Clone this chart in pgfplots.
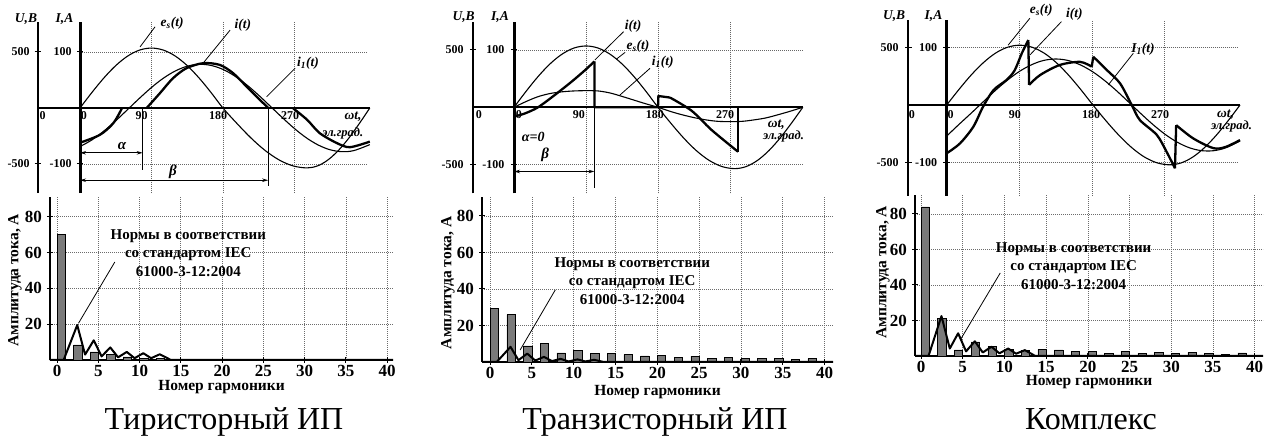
\documentclass[border=0pt]{standalone}
\usepackage{fontspec}
\setmainfont{Liberation Serif}
\usepackage{pgfplots}
\pgfplotsset{compat=1.18}
\usetikzlibrary{arrows.meta}
\newcommand\fs[1]{\fontsize{#1}{#1}\selectfont}
\newcommand\tkf{\fs{12}\bfseries}
\newcommand\lbf{\fs{13.5}\bfseries\itshape}
\definecolor{barfill}{gray}{0.48}
\pgfplotsset{
 wave/.style={scale only axis, hide axis, clip=false, anchor=south west, xmin=-60, xmax=375, ymin=-160, ymax=160},
 thinc/.style={black, line width=1.1pt, smooth, tension=0.55},
 thickc/.style={black, line width=2.3pt, smooth, tension=0.5, line join=round},
 thicks/.style={black, line width=2.3pt, line join=round},
 bars/.style={scale only axis, anchor=south west, clip=false, axis lines*=left,
   axis line style={line width=1.6pt}, ymin=0, xtick={0,5,...,40}, ytick={20,40,60,80},
   grid=major, grid style={dash pattern=on 0.8pt off 1.2pt, gray!85!black, line width=0.7pt},
   tick align=center, major tick length=6pt, tick style={black, line width=1pt},
   ticklabel style={font=\fs{17}\bfseries}, /pgf/number format/assume math mode=true,
   xticklabel style={anchor=north, inner sep=0pt, yshift=-2pt},
   yticklabel style={anchor=east, inner sep=0pt, xshift=-5pt}},
 barst/.style={ybar, bar width=1, fill=barfill, draw=black, line width=0.5pt},
 normst/.style={black, line width=2pt, line join=round},
}
\tikzset{gridl/.style={dash pattern=on 0.8pt off 1.2pt, gray!80!black, line width=0.8pt},
 lead/.style={black, line width=0.8pt},
 xlab/.style={font=\fs{15.5}\bfseries, inner sep=0pt},
 dim/.style={black, line width=0.9pt, {Stealth[length=6pt,width=3.5pt]}-{Stealth[length=6pt,width=3.5pt]}}}
\begin{document}
\begin{tikzpicture}
\useasboundingbox (0pt,0pt) rectangle (1265pt,438pt);
% ================= PANEL 1 TOP =================
\begin{axis}[wave, width=345.4pt, height=179.2pt, at={(32.36pt,240.4pt)}]
\draw[gridl] (0,100) -- (362,100); \draw[gridl] (0,-100) -- (362,-100);
\draw[gridl] (90,-152) -- (90,154);
\draw[gridl] (180,-152) -- (180,154);
\draw[gridl] (270,-152) -- (270,154);
\draw[line width=2.2pt] (-53,-152) -- (-53,154);
\draw[line width=3pt] (0,-152) -- (0,154);
\draw[line width=1.6pt] (-53,0) -- (365,0);
\draw[line width=1pt] (-57,100)--(-49,100) (-57,-100)--(-49,-100) (-4,100)--(4,100) (-4,-100)--(4,-100);
\node[anchor=east,font=\tkf] at (-59,100) {500};
\node[anchor=east,font=\tkf] at (-59,-100) {-500};
\node[anchor=east,font=\tkf] at (-6,100) {100};
\node[anchor=east,font=\tkf] at (-6,-100) {-100};
\node[font=\tkf] at (-47,-14) {0};
\node[font=\tkf] at (5,-14) {0};
\node[font=\tkf] at (77.6,-14) {90};
\node[font=\tkf] at (174,-14) {180};
\node[font=\tkf] at (264.5,-14) {270};
\node[font=\lbf] at (-68,159) {U,B};
\node[font=\lbf] at (-19.5,159) {I,A};
\addplot[thinc] coordinates {(0,0)(15,27.7)(30,53.5)(45,75.7)(60,92.7)(75,103.4)(90,107)(105,103.4)(120,92.7)(135,75.7)(150,53.5)(165,27.7)(180,0)(197.7,-27.7)(215.3,-53.5)(233,-75.7)(250.7,-92.7)(268.3,-103.4)(286,-107)(299.2,-103.4)(312.3,-92.7)(325.5,-75.7)(338.7,-53.5)(351.8,-27.7)(365,0)};
\addplot[thinc] coordinates {(0,-68.9)(15,-57)(30,-41.3)(45,-22.8)(60,-2.7)(75,17.5)(90,36.6)(105,53.2)(120,66.1)(135,74.6)(150,78)(165,76)(180,68.9)(195,57)(210,41.3)(225,22.8)(240,2.7)(255,-17.5)(270,-36.6)(285,-53.2)(300,-66.1)(315,-74.6)(330,-78)(345,-76)(365,-65.4)};
\addplot[thickc] coordinates {(0,-62)(25,-48)(42,-27)(53,0)};
\addplot[thicks] coordinates {(53,0)(84,0)};
\addplot[thickc] coordinates {(84,0)(101,27)(117,53)(134,71)(155,80)(176,77)(193,62)(210,38)(227,14)(237,0)};
\addplot[thicks] coordinates {(237,0)(268,0)};
\addplot[thickc] coordinates {(268,0)(286,-21)(302,-45)(324,-63)(340,-70)(365,-60)};
\draw[lead] (75.6,109) -- (94.5,145);
\node[font=\lbf] at (116,152) {e\textsubscript{s}(t)};
\draw[lead] (155,80) -- (189,139);
\node[font=\lbf] at (205,148) {i(t)};
\draw[lead] (235,20) -- (271,71);
\node[font=\lbf] at (287,80) {i\textsubscript{1}(t)};
\draw[dim] (0,-80) -- (79,-80);
\draw[line width=1.2pt] (79,0) -- (79,-111);
\node[font=\fs{15}\itshape\bfseries] at (53,-68) {α};
\draw[dim] (0,-129) -- (237,-129);
\draw[line width=1.2pt] (237,0) -- (237,-139);
\node[font=\fs{15}\itshape\bfseries] at (117,-114) {β};
\node[font=\lbf] at (344,-16) {ωt,};
\node[font=\fs{12.5}\bfseries\itshape] at (331,-45) {эл.град.};
\end{axis}
% ================= PANEL 2 TOP =================
\begin{axis}[wave, width=348pt, height=183.4pt, at={(466pt,239.0pt)}]
\draw[gridl] (0,100) -- (361,100); \draw[gridl] (0,-100) -- (361,-100);
\draw[gridl] (90,-150) -- (90,149);
\draw[gridl] (180,-150) -- (180,149);
\draw[gridl] (270,-150) -- (270,149);
\draw[line width=2.2pt] (-51,-150) -- (-51,149);
\draw[line width=3pt] (0,-150) -- (0,149);
\draw[line width=1.6pt] (-51,0) -- (361,0);
\draw[line width=1pt] (-55,100)--(-47,100) (-55,-100)--(-47,-100) (-4,100)--(4,100) (-4,-100)--(4,-100);
\node[anchor=east,font=\tkf] at (-58.5,100) {500};
\node[anchor=east,font=\tkf] at (-58.5,-100) {-500};
\node[anchor=east,font=\tkf] at (-7.5,100) {100};
\node[anchor=east,font=\tkf] at (-7.5,-100) {-100};
\node[font=\tkf] at (-44,-12) {0};
\node[font=\tkf] at (6,-12) {0};
\node[font=\tkf] at (81,-12) {90};
\node[font=\tkf] at (176,-12) {180};
\node[font=\tkf] at (264,-12) {270};
\node[font=\lbf] at (-63,157.6) {U,B};
\node[font=\lbf] at (-17.5,157.6) {I,A};
\addplot[thinc] coordinates {(0,0)(15,27.7)(30,53.5)(45,75.7)(60,92.7)(75,103.4)(90,107)(105,103.4)(120,92.7)(135,75.7)(150,53.5)(165,27.7)(180,0)(196,-27.7)(212,-53.5)(228,-75.7)(244,-92.7)(260,-103.4)(276,-107)(290.2,-103.4)(304.3,-92.7)(318.5,-75.7)(332.7,-53.5)(346.8,-27.7)(361,0)};
\addplot[thinc] coordinates {(0,0)(15,10)(30,18.5)(45,24)(60,27)(75,28.5)(90,29)(105,28.5)(120,25)(135,19)(150,12.5)(165,6)(180,0)(195,-7)(210,-13)(225,-18)(240,-22)(255,-24.5)(270,-25)(285,-24.5)(300,-22)(315,-18.5)(330,-13)(345,-7)(361,0)};
\addplot[thickc] coordinates {(0,-16.4)(14,-10.5)(30,0)(51,21.5)(72,44.7)(89,65)(100.5,80)};
\addplot[thicks] coordinates {(100.5,80)(100.5,0)(180,0)(180.5,19.7)(195,17)};
\addplot[thickc] coordinates {(195,17)(222,-6)(247,-39.6)(280,-77.5)};
\addplot[thicks] coordinates {(280,-77.5)(280,0)(361,0)};
\draw[line width=1.2pt] (100.5,0) -- (100.5,-141);
\draw[lead] (101,82.5) -- (137,132);
\node[font=\lbf] at (149,142) {i(t)};
\draw[lead] (128,84) -- (139,96);
\node[font=\lbf] at (155,106) {e\textsubscript{s}(t)};
\draw[lead] (132.5,21.5) -- (170,68);
\node[font=\lbf] at (186,79) {i\textsubscript{1}(t)};
\node[font=\fs{14}\itshape\bfseries] at (24,-52) {α=0};
\draw[dim] (0,-112) -- (100.5,-112);
\node[font=\fs{15}\itshape\bfseries] at (39,-83) {β};
\node[font=\lbf] at (328,-31) {ωt,};
\node[font=\fs{12.5}\bfseries\itshape] at (337,-51) {эл.град.};
\end{axis}
% ================= PANEL 3 TOP =================
\begin{axis}[wave, ymin=-165, width=351.5pt, height=186.9pt, at={(898.2pt,238.1pt)}]
\draw[gridl] (0,100) -- (361,100); \draw[gridl] (0,-100) -- (361,-100);
\draw[gridl] (90,-158) -- (90,148);
\draw[gridl] (180,-158) -- (180,148);
\draw[gridl] (270,-158) -- (270,148);
\draw[line width=2.2pt] (-47.5,-158) -- (-47.5,148);
\draw[line width=3pt] (0,-158) -- (0,148);
\draw[line width=1.6pt] (-47.5,0) -- (363,0);
\draw[line width=1pt] (-51.5,100)--(-43.5,100) (-51.5,-100)--(-43.5,-100) (-4,100)--(4,100) (-4,-100)--(4,-100);
\node[anchor=east,font=\tkf] at (-55,100) {500};
\node[anchor=east,font=\tkf] at (-55,-100) {-500};
\node[anchor=east,font=\tkf] at (-7.4,100) {100};
\node[anchor=east,font=\tkf] at (-7.4,-100) {-100};
\node[font=\tkf] at (-43,-16) {0};
\node[font=\tkf] at (5,-16) {0};
\node[font=\tkf] at (84.5,-16) {90};
\node[font=\tkf] at (178.6,-16) {180};
\node[font=\tkf] at (264,-16) {270};
\node[font=\lbf] at (-65,155) {U,B};
\node[font=\lbf] at (-16.3,155) {I,A};
\addplot[thinc] coordinates {(0,0)(15.1,26.9)(30.2,52)(45.3,73.5)(60.3,90.1)(75.4,100.5)(90.5,104)(105.6,100.5)(120.7,90.1)(135.8,73.5)(150.8,52)(165.9,26.9)(181,0)(196.8,-26.9)(212.7,-52)(228.5,-73.5)(244.3,-90.1)(260.2,-100.5)(276,-104)(290.5,-100.5)(305,-90.1)(319.5,-73.5)(334,-52)(348.5,-26.9)(363,0)};
\addplot[thinc] coordinates {(0,-54)(15,-34)(30,-14.6)(45,5.3)(60,25)(75,43)(90,58.4)(105,70)(120,77.5)(135,80)(150,77.5)(165,70)(180,58.4)(195,43)(210,25)(225,5.3)(240,-14.6)(255,-33.7)(270,-50.7)(285,-64.4)(300,-74.2)(315,-79.3)(330,-79.5)(345,-74.6)(363,-62.8)};
\addplot[thickc] coordinates {(0,-84)(16.5,-66.7)(33,-37.7)(45,-3)(58,26)(74,43.5)(84,60)(93,90)(101,113)};
\addplot[thicks] coordinates {(101,113)(102,35)};
\addplot[thickc] coordinates {(102,35)(115.5,52)(140,69.6)(165,75)(179.5,66.7)};
\addplot[thicks] coordinates {(179.5,66.7)(181.4,84)};
\addplot[thickc] coordinates {(181.4,84)(198,61)(214.5,37.7)(229,0)(239,-26)(260,-52)(272,-81)(282.5,-110)};
\addplot[thicks] coordinates {(282.5,-110)(284,-35)};
\addplot[thickc] coordinates {(284,-35)(305,-58)(330,-75)(345,-73)(363,-61)};
\draw[lead] (76,104) -- (103,151);
\node[font=\lbf] at (117,165) {e\textsubscript{s}(t)};
\draw[lead] (103,87) -- (142,145);
\node[font=\lbf] at (158,157) {i(t)};
\draw[lead] (200,35) -- (231,90);
\node[font=\lbf] at (243,97) {I\textsubscript{1}(t)};
\node[font=\lbf] at (345,-17) {ωt,};
\node[font=\fs{12.5}\bfseries\itshape] at (352.5,-38) {эл.град.};
\end{axis}
% ================= PANEL 1 BARS =================
\begin{axis}[bars, width=343pt, height=163pt, at={(50pt,78pt)}, xmin=-0.85, xmax=40.7, ymax=91]
\addplot[barst] coordinates {(0.5,70)(2.5,8.4)(4.5,4.5)(6.5,3.3)(8.5,1.7)(10.5,1.1)(12.5,0.9)};
\addplot[normst] coordinates {(-0.85,0)(0.8,0)(2.45,19.5)(3.4,3)(4.45,11)(5.4,2)(6.45,7)(7.4,1.5)(8.45,4.5)(9.4,1)(10.45,3.8)(11.4,1)(12.45,3.2)(13.8,0)(40.7,0)};
\draw[lead] (7,54.7) -- (2.6,20.5);
\node[align=center, font=\fontsize{15}{18.5}\selectfont\bfseries] at (15.9,59.8) {Нормы в соответствии\\со стандартом IEC\\61000-3-12:2004};
\node[rotate=90, font=\fs{15.5}\bfseries] at (axis description cs:-0.102,0.49) {Амплитуда тока, А};
\node[xlab] at (axis description cs:0.5,-0.166) {Номер гармоники};
\end{axis}
% ================= PANEL 2 BARS =================
\begin{axis}[bars, width=351pt, height=165pt, at={(482pt,76pt)}, xmin=-0.96, xmax=41, ymax=90.4]
\addplot[barst] coordinates {(0.5,29.5)(2.5,26)(4.5,8.8)(6.5,10.2)(8.5,5)(10.5,6.5)(12.5,4.6)(14.5,4.6)(16.5,4)(18.5,3.3)(20.5,3.6)(22.5,2.6)(24.5,3.2)(26.5,2)(28.5,2.7)(30.5,2)(32.5,2)(34.5,1.8)(36.5,1.5)(38.5,1.8)};
\addplot[normst] coordinates {(-0.96,0)(0.8,0)(2.45,8.3)(3.4,1)(4.45,4.6)(5.4,0.8)(6.45,2.8)(7.4,0.5)(8.45,1.7)(9.4,0.3)(10.45,1.4)(11.4,0.3)(12.45,1.2)(13.6,0)(41,0)};
\draw[lead] (7.8,39.5) -- (3.6,6.6);
\node[align=center, font=\fontsize{15}{18.5}\selectfont\bfseries] at (17,44.4) {Нормы в соответствии\\со стандартом IEC\\61000-3-12:2004};
\node[rotate=90, font=\fs{15.5}\bfseries] at (axis description cs:-0.097,0.48) {Амплитуда тока, А};
\node[xlab] at (axis description cs:0.5,-0.18) {Номер гармоники};
\end{axis}
% ================= PANEL 3 BARS =================
\begin{axis}[bars, width=348pt, height=161pt, at={(915pt,82pt)}, xmin=-0.72, xmax=41, ymax=90.7]
\addplot[barst] coordinates {(0.5,84)(2.5,21.2)(4.5,3.4)(6.5,8)(8.5,5.3)(10.5,3.8)(12.5,3)(14.5,3.8)(16.5,3.4)(18.5,2.5)(20.5,2.7)(22.5,1.5)(24.5,2.8)(26.5,1.5)(28.5,2)(30.5,1.5)(32.5,2)(34.5,1.5)(36.5,1)(38.5,1.8)};
\addplot[normst] coordinates {(-0.72,0)(0.9,0)(2.45,22.5)(3.45,4.2)(4.45,12.8)(5.4,2.6)(6.45,8.3)(7.4,2)(8.45,5.2)(9.4,1.5)(10.45,4.2)(11.4,1.3)(12.45,3.3)(13.7,0)(41,0)};
\draw[lead] (9.5,46.8) -- (4.7,9);
\node[align=center, font=\fontsize{15}{18.5}\selectfont\bfseries] at (18.3,50.7) {Нормы в соответствии\\со стандартом IEC\\61000-3-12:2004};
\node[rotate=90, font=\fs{15.5}\bfseries] at (axis description cs:-0.092,0.52) {Амплитуда тока, А};
\node[xlab] at (axis description cs:0.5,-0.165) {Номер гармоники};
\end{axis}
% ================= CAPTIONS =================
\node[anchor=base, font=\fs{32}] at (224pt,8pt) {Тиристорный ИП};
\node[anchor=base, font=\fs{32}] at (655pt,8pt) {Транзисторный ИП};
\node[anchor=base, font=\fs{32}] at (1091pt,8pt) {Комплекс};
\end{tikzpicture}
\end{document}
